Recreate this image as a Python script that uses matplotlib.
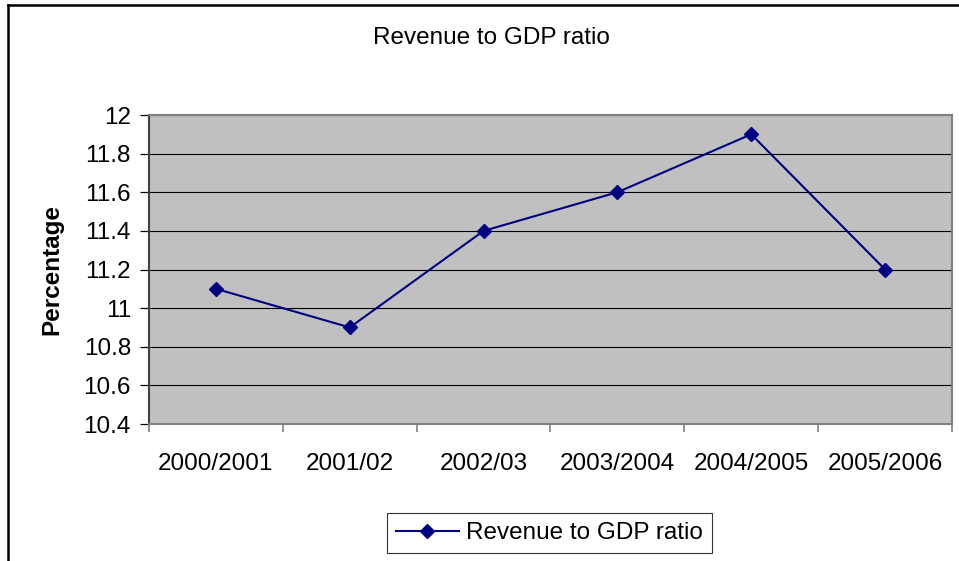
import numpy as np
import matplotlib
matplotlib.use("Agg")
import matplotlib.pyplot as plt
from matplotlib.lines import Line2D

plt.rcParams['font.family'] = ['Liberation Sans', 'DejaVu Sans']

years = ['2000/2001', '2001/02', '2002/03', '2003/2004', '2004/2005', '2005/2006']
ratio = [11.1, 10.9, 11.4, 11.6, 11.9, 11.2]
yticks = [10.4, 10.6, 10.8, 11.0, 11.2, 11.4, 11.6, 11.8, 12.0]
ytick_labels = ['10.4', '10.6', '10.8', '11', '11.2', '11.4', '11.6', '11.8', '12']

FS = 17.5
W, H = 959, 561
fig = plt.figure(figsize=(W / 100, H / 100), dpi=100)
fig.patch.set_facecolor('white')

# chart frame (runs off the right and bottom edges)
fig.add_artist(Line2D([8 / W, 1.0], [1 - 5 / H, 1 - 5 / H], color='black', lw=1.8,
                      transform=fig.transFigure))
fig.add_artist(Line2D([8 / W, 8 / W], [0.0, 1 - 5 / H], color='black', lw=1.8,
                      transform=fig.transFigure))

ax = fig.add_axes([149 / W, (H - 424) / H, 803 / W, 309 / H])
ax.set_facecolor('#C0C0C0')

x = np.arange(len(years))
ax.plot(x, ratio, color='#000080', lw=1.5, marker='D', markersize=7.5,
        label='Revenue to GDP ratio', zorder=3)

ax.set_xlim(-0.5, len(years) - 0.5)
ax.set_ylim(10.4, 12.0)

ax.set_yticks(yticks)
ax.set_yticklabels(ytick_labels, fontsize=FS)
ax.tick_params(axis='y', direction='out', length=6.5, width=0.9, pad=6.5, color='black')
ax.yaxis.grid(True, color='black', lw=0.8)
ax.set_axisbelow(True)

ax.set_xticks(x)
ax.set_xticklabels(years, fontsize=FS)
ax.set_xticks(np.arange(len(years) + 1) - 0.5, minor=True)
ax.tick_params(axis='x', which='major', length=0, pad=21)
ax.tick_params(axis='x', which='minor', direction='out', length=6, width=1.2, color='#808080')

for side in ['top', 'right', 'bottom']:
    ax.spines[side].set_color('#808080')
    ax.spines[side].set_linewidth(1.5)
ax.spines['left'].set_color('#404040')
ax.spines['left'].set_linewidth(1.5)

ax.set_ylabel('Percentage', fontsize=FS, fontweight='bold')
ax.yaxis.set_label_coords((63 - 149) / 803, 0.5)

fig.text(491 / W, 1 - 38.5 / H, 'Revenue to GDP ratio', fontsize=FS,
         ha='center', va='center')

leg = ax.legend(loc='center', bbox_to_anchor=(549.5 / W, 1 - 533 / H),
                bbox_transform=fig.transFigure, fontsize=FS, frameon=True,
                fancybox=False, edgecolor='black', handlelength=2.6,
                borderpad=0.35, handletextpad=0.3, borderaxespad=0)
leg.get_frame().set_linewidth(0.8)

fig.savefig('out.png', dpi=100)
